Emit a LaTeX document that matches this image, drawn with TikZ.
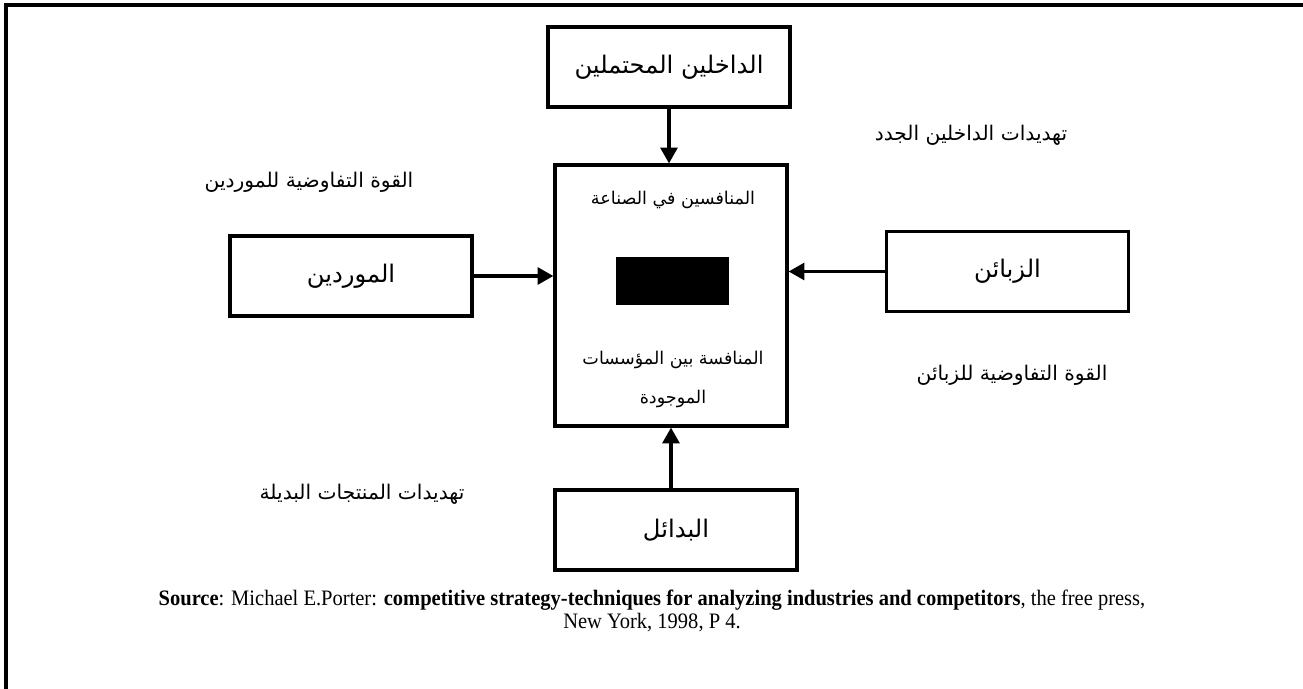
\documentclass[tikz,border=0pt]{standalone}
\usepackage{fontspec}
\setmainfont{Liberation Serif}
\newfontfamily\arabicfont[Script=Arabic]{DejaVu Sans}
\newfontfamily\srcfont[FakeStretch=0.93]{Liberation Serif}
\TeXXeTstate=1
\usepackage{tikz}
\usetikzlibrary{arrows.meta, positioning}

\newcommand{\artxt}[1]{{\arabicfont\beginR #1\endR}}

\begin{document}
\begin{tikzpicture}[
  x=0.02cm, y=-0.02cm,
  box/.style={draw, line width=1.8pt, minimum width=4.84cm,
              minimum height=1.6cm, inner sep=0pt,
              font=\fontsize{13.8}{16}\selectfont},
  lbl/.style={inner sep=0pt, font=\fontsize{11.5}{13}\selectfont},
  inlbl/.style={inner sep=0pt, font=\fontsize{10}{12}\selectfont},
  arr/.style={-{Triangle[length=9pt, width=9.5pt]}, line width=2.1pt}
]
  \useasboundingbox (0,0) rectangle (1303,689);
  \draw[line width=2.2pt] (6,689) -- (6,5) -- (1303,5);

  % the five forces
  \node[box, minimum width=4.64cm, minimum height=5.22cm] (ctr) at (671,295.5) {};
  \node[box] (ent)  at (669,67)   {\artxt{الداخلين المحتملين}};
  \node[box] (sup)  at (351,276)  {\artxt{الموردين}};
  \node[box] (cust) at (1007.5,271.5) {\artxt{الزبائن}};
  \node[box] (subs) at (676,530)  {\artxt{البدائل}};

  % inside the centre box
  \node[inlbl] (ind)   at (673,200) {\artxt{المنافسين في الصناعة}};
  \node[fill=black, minimum width=2.26cm, minimum height=0.96cm,
        inner sep=0pt] (blk) at (672.5,281) {};
  \node[inlbl] (riv)   at (673,360) {\artxt{المنافسة بين المؤسسات}};
  \node[inlbl] (exist) at (673,399) {\artxt{الموجودة}};

  % side labels
  \node[lbl] (thrnew) at (971,135)  {\artxt{تهديدات الداخلين الجدد}};
  \node[lbl] (bpsup)  at (309,182)  {\artxt{القوة التفاوضية للموردين}};
  \node[lbl] (bpcust) at (1012,375) {\artxt{القوة التفاوضية للزبائن}};
  \node[lbl] (thrsub) at (362,494)  {\artxt{تهديدات المنتجات البديلة}};

  \node[inner sep=0pt, align=center, font=\srcfont\fontsize{12.55}{13.2}\selectfont]
    (src) at (652,611)
    {\textbf{Source}: Michael E.Porter: \textbf{competitive strategy-techniques for analyzing industries and competitors}, the free press,\\
     New York, 1998, P 4.};

  \draw[arr] (ent)  -- (ent |- ctr.north);
  \draw[arr] (sup)  -- (sup -| ctr.west);
  \draw[arr] (cust) -- (cust -| ctr.east);
  \draw[arr] (subs.north -| ctr) -- (ctr.south);
\end{tikzpicture}
\end{document}
